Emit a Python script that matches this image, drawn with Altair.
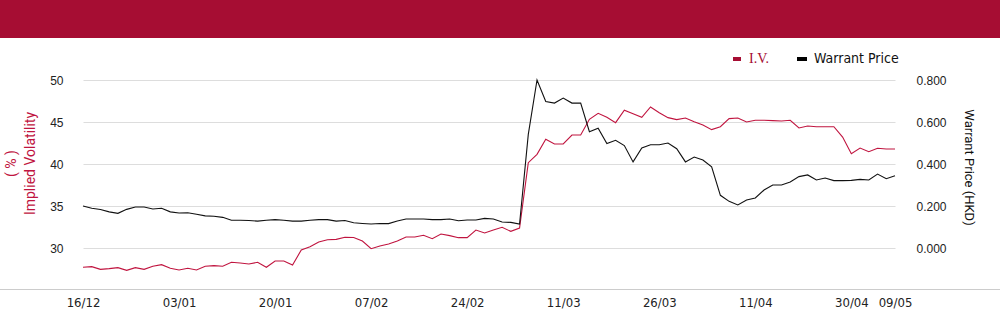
import altair as alt
import pandas as pd

dates = [
    "16/12", "17/12", "18/12", "19/12", "20/12", "23/12", "24/12", "27/12", "30/12", "31/12",
    "02/01", "03/01", "06/01", "07/01", "08/01", "09/01", "10/01", "13/01", "14/01", "15/01",
    "16/01", "17/01", "20/01", "21/01", "22/01", "23/01", "24/01", "27/01", "28/01",
    "03/02", "04/02", "05/02", "06/02", "07/02", "10/02", "11/02", "12/02", "13/02", "14/02",
    "17/02", "18/02", "19/02", "20/02", "21/02", "24/02", "25/02", "26/02", "27/02", "28/02",
    "03/03", "04/03", "05/03", "06/03", "07/03", "10/03", "11/03", "12/03", "13/03", "14/03",
    "17/03", "18/03", "19/03", "20/03", "21/03", "24/03", "25/03", "26/03", "27/03", "28/03", "31/03",
    "01/04", "02/04", "03/04", "07/04", "08/04", "09/04", "10/04", "11/04", "14/04", "15/04",
    "16/04", "17/04", "22/04", "23/04", "24/04", "25/04", "28/04", "29/04", "30/04",
    "02/05", "06/05", "07/05", "08/05", "09/05",
]

iv = [
    27.70, 27.78, 27.46, 27.54, 27.66, 27.34, 27.66, 27.46, 27.82, 28.02,
    27.58, 27.38, 27.58, 27.38, 27.82, 27.90, 27.82, 28.30, 28.21, 28.10,
    28.30, 27.70, 28.45, 28.45, 27.98, 29.76, 30.16, 30.71, 30.99, 31.03,
    31.27, 31.25, 30.83, 29.92, 30.24, 30.48, 30.83, 31.31, 31.31, 31.51,
    31.11, 31.67, 31.47, 31.23, 31.23, 32.14, 31.79, 32.14, 32.46, 31.98,
    32.38, 40.16, 41.15, 42.94, 42.38, 42.38, 43.45, 43.45, 45.32, 46.03,
    45.56, 44.92, 46.41, 45.99, 45.56, 46.79, 46.11, 45.52, 45.28, 45.48,
    45.04, 44.64, 44.09, 44.44, 45.40, 45.48, 45.00, 45.20, 45.20, 45.16,
    45.12, 45.20, 44.29, 44.52, 44.44, 44.44, 44.44, 43.21, 41.23, 41.90,
    41.47, 41.87, 41.79, 41.79,
]

price = [
    0.200, 0.189, 0.183, 0.172, 0.165, 0.184, 0.195, 0.195, 0.186, 0.189,
    0.172, 0.167, 0.168, 0.161, 0.153, 0.151, 0.146, 0.132, 0.132, 0.131,
    0.128, 0.132, 0.135, 0.132, 0.128, 0.128, 0.132, 0.135, 0.135, 0.128,
    0.131, 0.120, 0.117, 0.114, 0.117, 0.116, 0.129, 0.138, 0.138, 0.138,
    0.135, 0.135, 0.138, 0.130, 0.133, 0.133, 0.141, 0.138, 0.124, 0.122,
    0.114, 0.541, 0.800, 0.698, 0.690, 0.714, 0.690, 0.690, 0.554, 0.570,
    0.497, 0.513, 0.488, 0.410, 0.476, 0.492, 0.492, 0.500, 0.473, 0.410,
    0.433, 0.419, 0.386, 0.251, 0.222, 0.205, 0.229, 0.238, 0.276, 0.300,
    0.300, 0.314, 0.340, 0.348, 0.324, 0.333, 0.321, 0.321, 0.322, 0.327,
    0.324, 0.352, 0.330, 0.344,
]

tick_dates = ["16/12", "03/01", "20/01", "07/02", "24/02", "11/03", "26/03", "11/04", "30/04", "09/05"]
iv_ticks = [30, 35, 40, 45, 50]
price_ticks = [0.0, 0.2, 0.4, 0.6, 0.8]
legend_labels = ["I.V.", "Warrant Price"]

RED = "#C0143F"
BANNER = "#A60D33"
LABEL_FONT = "Liberation Sans"
NARROW = "Liberation Sans Narrow, DejaVu Sans Condensed, Liberation Sans"

df = pd.DataFrame({"date": dates, "iv": iv, "price": price})
one = pd.DataFrame({"k": [0]})

W, H = 812, 210

x_enc = alt.X(
    "date:O",
    sort=None,
    scale=alt.Scale(type="point", padding=0),
    axis=alt.Axis(
        values=tick_dates, labelAngle=0, domain=False, ticks=False, grid=False,
        title=None, labelFont=NARROW, labelFontSize=13, labelColor="#222222",
        labelPadding=6, labelBaseline="top",
    ),
)

iv_line = alt.Chart(df).mark_line(color=RED, strokeWidth=1.1).encode(
    x=x_enc,
    y=alt.Y(
        "iv:Q",
        scale=alt.Scale(domain=[25, 50], nice=False, zero=False),
        axis=alt.Axis(
            orient="left", values=iv_ticks, grid=True, gridColor="#DDDDDD",
            domain=False, ticks=False, labelPadding=20, labelFont=LABEL_FONT,
            labelFontSize=12, labelColor="#222222",
            title=["( % )", "Implied Volatility"], titleColor=RED,
            titleFont="Roboto", titleFontSize=14, titleFontWeight="normal",
            titleAngle=270, titleX=-72, titleY=83, titleAlign="center",
            titleBaseline="middle", titleLineHeight=19,
        ),
    ),
)

price_line = alt.Chart(df).mark_line(color="#111111", strokeWidth=1.1).encode(
    x=x_enc,
    y=alt.Y(
        "price:Q",
        scale=alt.Scale(domain=[-0.2, 0.8], nice=False, zero=False),
        axis=alt.Axis(
            orient="right", values=price_ticks, format=".3f", grid=False,
            domain=False, ticks=False, labelPadding=21, labelFont=LABEL_FONT,
            labelFontSize=12, labelColor="#222222",
            title="Warrant Price (HKD)", titleColor="#111111",
            titleFont="Roboto", titleFontSize=13, titleFontWeight="normal",
            titleAngle=90, titleX=73, titleY=87, titleAlign="center",
            titleBaseline="middle",
        ),
    ),
)

banner = alt.Chart(one).mark_rect(color=BANNER).encode(
    x=alt.value(-83), x2=alt.value(917), y=alt.value(-80), y2=alt.value(-42)
)
sep = alt.Chart(one).mark_rule(color="#CCCCCC", strokeWidth=1).encode(
    x=alt.value(-83), x2=alt.value(917), y=alt.value(209.5)
)

leg_sym_red = alt.Chart(one).mark_rect(color=BANNER).encode(
    x=alt.value(650), x2=alt.value(658), y=alt.value(-23), y2=alt.value(-19)
)
leg_txt_red = alt.Chart(one).mark_text(
    align="left", baseline="middle", font="Liberation Serif", fontSize=14, color=BANNER
).encode(x=alt.value(666), y=alt.value(-21), text=alt.value(legend_labels[0]))
leg_sym_blk = alt.Chart(one).mark_rect(color="#000000").encode(
    x=alt.value(714), x2=alt.value(724), y=alt.value(-23), y2=alt.value(-19)
)
leg_txt_blk = alt.Chart(one).mark_text(
    align="left", baseline="middle", font=NARROW, fontSize=14, color="#111111"
).encode(x=alt.value(731), y=alt.value(-21), text=alt.value(legend_labels[1]))

chart = alt.layer(
    banner, sep, iv_line, price_line,
    leg_sym_red, leg_txt_red, leg_sym_blk, leg_txt_blk,
).resolve_scale(y="independent").properties(
    width=W, height=H,
    autosize=alt.AutoSizeParams(type="none"),
    padding={"left": 83, "top": 80, "right": 105, "bottom": 34},
    background="white",
).configure_view(stroke=None)

chart.save("out.html", embed_options={"renderer": "svg", "actions": False})
